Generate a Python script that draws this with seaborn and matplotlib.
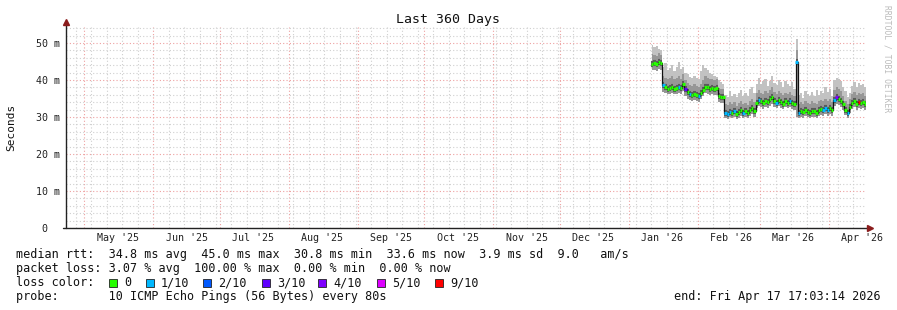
import matplotlib
matplotlib.use("Agg")
import matplotlib.pyplot as plt
import matplotlib.dates as mdates
import matplotlib.transforms as mtrans
from matplotlib.patches import Rectangle
import numpy as np
import pandas as pd
import seaborn as sns

# ---------------- data ----------------
title = "Last 360 Days"
range_start = "2025-04-22 17:03:14"
range_end = "2026-04-17 17:03:14"
data_start = "2026-01-11 12:00"

median_ms = [44.3, 44.6, 44.2, 44.8, 44.5,
             38.6, 38.0, 37.6, 37.8, 38.2, 37.7, 37.9, 38.1, 37.8,
             39.0,
             37.6, 36.8, 36.2, 35.9, 36.3, 36.0, 35.8, 36.4,
             37.2, 38.2, 38.0, 37.7, 37.9, 37.6, 37.8,
             35.6, 35.4, 35.5,
             31.2, 30.9, 31.4, 31.0, 31.6, 30.8, 31.3, 31.9, 31.2, 31.5, 31.0, 31.8, 32.3, 31.6,
             33.9, 34.6, 34.2, 33.7, 34.4, 34.0, 34.8, 35.4, 34.3, 33.8, 34.5, 34.1, 33.6, 34.2, 33.9, 34.3, 33.7, 33.5,
             45.0,
             31.0, 31.6, 31.3, 31.8, 31.4, 31.1, 31.7, 31.5, 31.2, 31.8, 32.2, 31.9, 32.5, 32.0, 32.3, 31.8,
             34.6, 35.3, 35.0, 34.4, 33.4,
             32.0, 31.0, 32.6,
             33.8, 34.2, 33.5, 34.1, 33.8, 34.0, 33.6]

loss_tenths = [0, 0, 0, 0, 0,
               1, 0, 0, 0, 0, 0, 0, 1, 0,
               0,
               3, 0, 1, 0, 0, 0, 1, 0,
               0, 0, 0, 0, 0, 0, 0,
               0, 0, 0,
               1, 1, 1, 0, 1, 0, 0, 0, 1, 0, 0, 0, 0, 0,
               0, 1, 0, 0, 0, 0, 0, 0, 0, 1, 0, 0, 0, 0, 0, 1, 0, 0,
               1,
               1, 0, 0, 0, 0, 0, 0, 0, 0, 0, 0, 1, 1, 1, 0, 0,
               1, 4, 0, 0, 0,
               0, 1, 0,
               0, 0, 0, 9, 0, 0, 0]

smoke_lo = [42.6, 42.8, 42.4, 43.0, 42.8,
            36.8, 36.4, 36.2, 36.3, 36.6, 36.1, 36.3, 36.5, 36.2,
            37.0,
            35.8, 35.0, 34.6, 34.3, 34.6, 34.4, 34.1, 34.8,
            35.6, 36.4, 36.2, 36.0, 36.1, 35.9, 36.0,
            34.0, 33.8, 33.9,
            29.6, 29.5, 29.9, 29.6, 30.1, 29.4, 29.8, 30.3, 29.7, 30.0, 29.6, 30.2, 30.7, 30.1,
            32.4, 32.9, 32.6, 32.2, 32.8, 32.4, 33.1, 33.6, 32.7, 32.3, 32.9, 32.5, 32.1, 32.6, 32.3, 32.7, 32.2, 31.9,
            30.0,
            29.6, 30.0, 29.8, 30.2, 29.9, 29.6, 30.1, 30.0, 29.7, 30.2, 30.6, 30.3, 30.9, 30.4, 30.7, 30.2,
            33.0, 33.6, 33.3, 32.8, 31.9,
            30.5, 29.6, 31.0,
            32.2, 32.6, 32.0, 32.5, 32.2, 32.4, 32.0]

smoke_mid = [47.0, 46.8, 46.5, 47.2, 46.8,
             41.0, 40.6, 40.2, 40.5, 41.0, 40.2, 40.6, 41.2, 40.4,
             41.5,
             40.0, 39.2, 38.6, 38.4, 38.8, 38.5, 38.2, 39.0,
             40.0, 41.0, 40.6, 40.2, 40.4, 40.0, 40.2,
             37.8, 37.6, 37.6,
             33.6, 33.2, 34.0, 33.4, 34.0, 33.0, 33.8, 34.4, 33.6, 33.9, 33.3, 34.4, 34.8, 34.0,
             36.4, 37.2, 36.6, 36.2, 37.0, 36.4, 37.4, 38.0, 36.8, 36.2, 37.0, 36.6, 35.9, 36.6, 36.2, 36.7, 36.0, 35.6,
             48.0,
             33.4, 34.0, 33.6, 34.3, 33.8, 33.4, 34.2, 33.9, 33.6, 34.3, 34.6, 34.2, 35.0, 34.4, 34.8, 34.0,
             37.4, 38.0, 37.6, 37.0, 35.8,
             34.4, 33.4, 34.8,
             36.2, 36.8, 35.9, 36.6, 36.2, 36.5, 35.8]

smoke_hi = [49.5, 48.8, 49.2, 48.5, 48.0,
            43.5, 44.5, 42.8, 43.2, 44.0, 42.5, 43.6, 44.8, 43.0,
            43.5,
            42.0, 41.5, 40.8, 40.5, 41.2, 40.6, 40.2, 42.5,
            44.0, 43.2, 42.8, 42.0, 41.6, 41.0, 40.8,
            40.0, 39.5, 39.0,
            36.0, 35.5, 37.0, 35.8, 36.2, 35.4, 36.6, 37.2, 35.8, 36.4, 35.6, 37.5, 38.0, 36.5,
            39.0, 40.5, 38.8, 39.6, 40.2, 38.5, 39.8, 41.0, 39.2, 38.6, 40.0, 39.4, 38.2, 39.7, 39.0, 38.4, 39.5, 37.5,
            51.0,
            36.0, 36.5, 35.2, 37.0, 36.2, 35.6, 36.8, 35.8, 37.2, 36.0, 37.0, 36.4, 38.0, 36.8, 37.5, 35.8,
            40.0, 40.6, 40.2, 39.8, 38.0,
            37.0, 35.5, 36.5,
            38.5, 39.5, 38.0, 39.2, 38.6, 39.0, 38.2]

month_starts = ["2025-05-01", "2025-06-01", "2025-07-01", "2025-08-01", "2025-09-01",
                "2025-10-01", "2025-11-01", "2025-12-01", "2026-01-01", "2026-02-01",
                "2026-03-01", "2026-04-01"]
month_labels = ["May '25", "Jun '25", "Jul '25", "Aug '25", "Sep '25", "Oct '25",
                "Nov '25", "Dec '25", "Jan '26", "Feb '26", "Mar '26", "Apr '26"]

ytick_values = [0, 10, 20, 30, 40, 50]
ytick_labels = ["0  ", "10 m", "20 m", "30 m", "40 m", "50 m"]

loss_legend_labels = ["0", "1/10", "2/10", "3/10", "4/10", "5/10", "9/10"]
loss_legend_colors = ["#26ff00", "#00b8ff", "#0059ff", "#5e00ff", "#7e00ff", "#dd00ff", "#ff0000"]
loss_color_of = {0: "#26ff00", 1: "#00b8ff", 2: "#0059ff", 3: "#5e00ff",
                 4: "#7e00ff", 5: "#dd00ff", 9: "#ff0000"}

stats_line1 = "median rtt:  34.8 ms avg  45.0 ms max  30.8 ms min  33.6 ms now  3.9 ms sd  9.0   am/s"
stats_line2 = "packet loss: 3.07 % avg  100.00 % max  0.00 % min  0.00 % now"
stats_line3 = "loss color:"
stats_line4 = "probe:       10 ICMP Echo Pings (56 Bytes) every 80s"
end_text = "end: Fri Apr 17 17:03:14 2026"
watermark = "RRDTOOL / TOBI OETIKER"

# ---------------- style ----------------
sns.set_style("white")
plt.rcParams["font.family"] = ["DejaVu Sans Mono", "DejaVu Sans"]

W, H = 897, 310
fig = plt.figure(figsize=(W / 100, H / 100), dpi=100)
fig.patch.set_facecolor("white")

ax_l, ax_r, ax_b, ax_t = 66, 866, 228, 27
ax = fig.add_axes([ax_l / W, (H - ax_b) / H, (ax_r - ax_l) / W, (ax_b - ax_t) / H])
ax.set_facecolor("white")

dates = pd.date_range(data_start, periods=len(median_ms), freq="D")
df = pd.DataFrame({"date": dates, "median": median_ms, "lo": smoke_lo,
                   "mid": smoke_mid, "hi": smoke_hi, "loss": loss_tenths})

xs = mdates.date2num(df["date"])
x0 = mdates.date2num(pd.Timestamp(range_start))
x1 = mdates.date2num(pd.Timestamp(range_end))

# smoke
ax.fill_between(xs, df["lo"], df["hi"], step="mid", color="#c2c2c2", lw=0, zorder=2)
ax.fill_between(xs, df["lo"], df["mid"], step="mid", color="#979797", lw=0, zorder=3)
ax.hlines(df["median"], xs - 0.5, xs + 0.5, colors="#5a5a5a", lw=4.4, zorder=4)
sns.lineplot(x=xs, y=df["median"], ax=ax, drawstyle="steps-mid", color="#111111",
             lw=0.9, zorder=5, legend=False)
seg_colors = [loss_color_of[v] for v in df["loss"]]
ax.hlines(df["median"], xs - 0.56, xs + 0.56, colors=seg_colors, lw=2.3, zorder=6)
ax.set_xlabel("")
ax.set_ylabel("")

ax.set_xlim(x0, x1)
ax.set_ylim(0, (ax_b - ax_t) / 3.7)

# grid
ax.set_xticks(mdates.date2num(pd.to_datetime(month_starts)))
ax.xaxis.set_minor_locator(mdates.WeekdayLocator(byweekday=mdates.SU))
ax.set_xticklabels([])
ax.set_yticks(ytick_values)
ax.set_yticklabels(ytick_labels)
ax.set_yticks(np.arange(0, 56, 2), minor=True)
ax.grid(which="minor", color="#cfcfcf", linestyle=(0, (1, 2)), linewidth=0.8, zorder=0)
ax.grid(which="major", color="#eea0a0", linestyle=(0, (1, 2)), linewidth=0.8, zorder=0)
ax.set_axisbelow(True)
ax.tick_params(axis="both", which="both", direction="out", length=2.2, width=0.6,
               color="#a0a0a0")
ax.tick_params(axis="y", which="major", labelsize=7.2, pad=2.0, labelcolor="#222222")
for lab in ax.get_yticklabels():
    lab.set_fontfamily("DejaVu Sans Mono")

for s in ["top", "right", "left", "bottom"]:
    ax.spines[s].set_visible(False)

# axes lines with arrows
ax.plot([0, 0], [0, 1.02], transform=ax.transAxes, color="#222222", lw=1.0,
        clip_on=False, zorder=10)
ax.plot([-0.004, 1.004], [0, 0], transform=ax.transAxes, color="#222222", lw=1.0,
        clip_on=False, zorder=10)
ax.plot([0], [1.025], transform=ax.transAxes, marker="^", ms=4.5, color="#8b1c1c",
        clip_on=False, zorder=11)
ax.plot([1.005], [0], transform=ax.transAxes, marker=">", ms=4.5, color="#8b1c1c",
        clip_on=False, zorder=11)

# month labels centered at month start + 15 days
blend = mtrans.blended_transform_factory(ax.transData, ax.transAxes)
for ms_, lab in zip(month_starts, month_labels):
    xm = mdates.date2num(pd.Timestamp(ms_) + pd.Timedelta(days=15))
    ax.text(xm, -10 / (ax_b - ax_t), lab, transform=blend, ha="center", va="center",
            fontsize=7.2, color="#222222", clip_on=False)

# title, y label, watermark
fig.text(448 / W, 1 - 19 / H, title, ha="center", va="center", fontsize=9.5, color="#111111")
fig.text(11 / W, 1 - 127 / H, "Seconds", rotation=90, ha="center", va="center",
         fontsize=8, color="#111111")
fig.text(887 / W, 1 - 5 / H, watermark, rotation=270, ha="center", va="top",
         fontsize=5.8, color="#bbbbbb")

# legend text
fs_leg = 8.5
fig.text(16 / W, 1 - 254.3 / H, stats_line1, ha="left", va="center", fontsize=fs_leg, color="#111111")
fig.text(16 / W, 1 - 268.3 / H, stats_line2, ha="left", va="center", fontsize=fs_leg, color="#111111")
fig.text(16 / W, 1 - 282.7 / H, stats_line3, ha="left", va="center", fontsize=fs_leg, color="#111111")
fig.text(16 / W, 1 - 296.7 / H, stats_line4, ha="left", va="center", fontsize=fs_leg, color="#111111")
fig.text(881 / W, 1 - 296.7 / H, end_text, ha="right", va="center", fontsize=fs_leg, color="#111111")

sq_x = [109, 146, 203, 262, 318, 377, 435]
for sx, lab, col in zip(sq_x, loss_legend_labels, loss_legend_colors):
    fig.add_artist(Rectangle((sx / W, 1 - 286.7 / H), 8 / W, 8 / H, transform=fig.transFigure,
                             facecolor=col, edgecolor="#222222", lw=0.6))
    fig.text((sx + 15) / W, 1 - 282.7 / H, lab, ha="left", va="center", fontsize=fs_leg,
             color="#111111")

fig.savefig("out.png", dpi=100, facecolor="white")
